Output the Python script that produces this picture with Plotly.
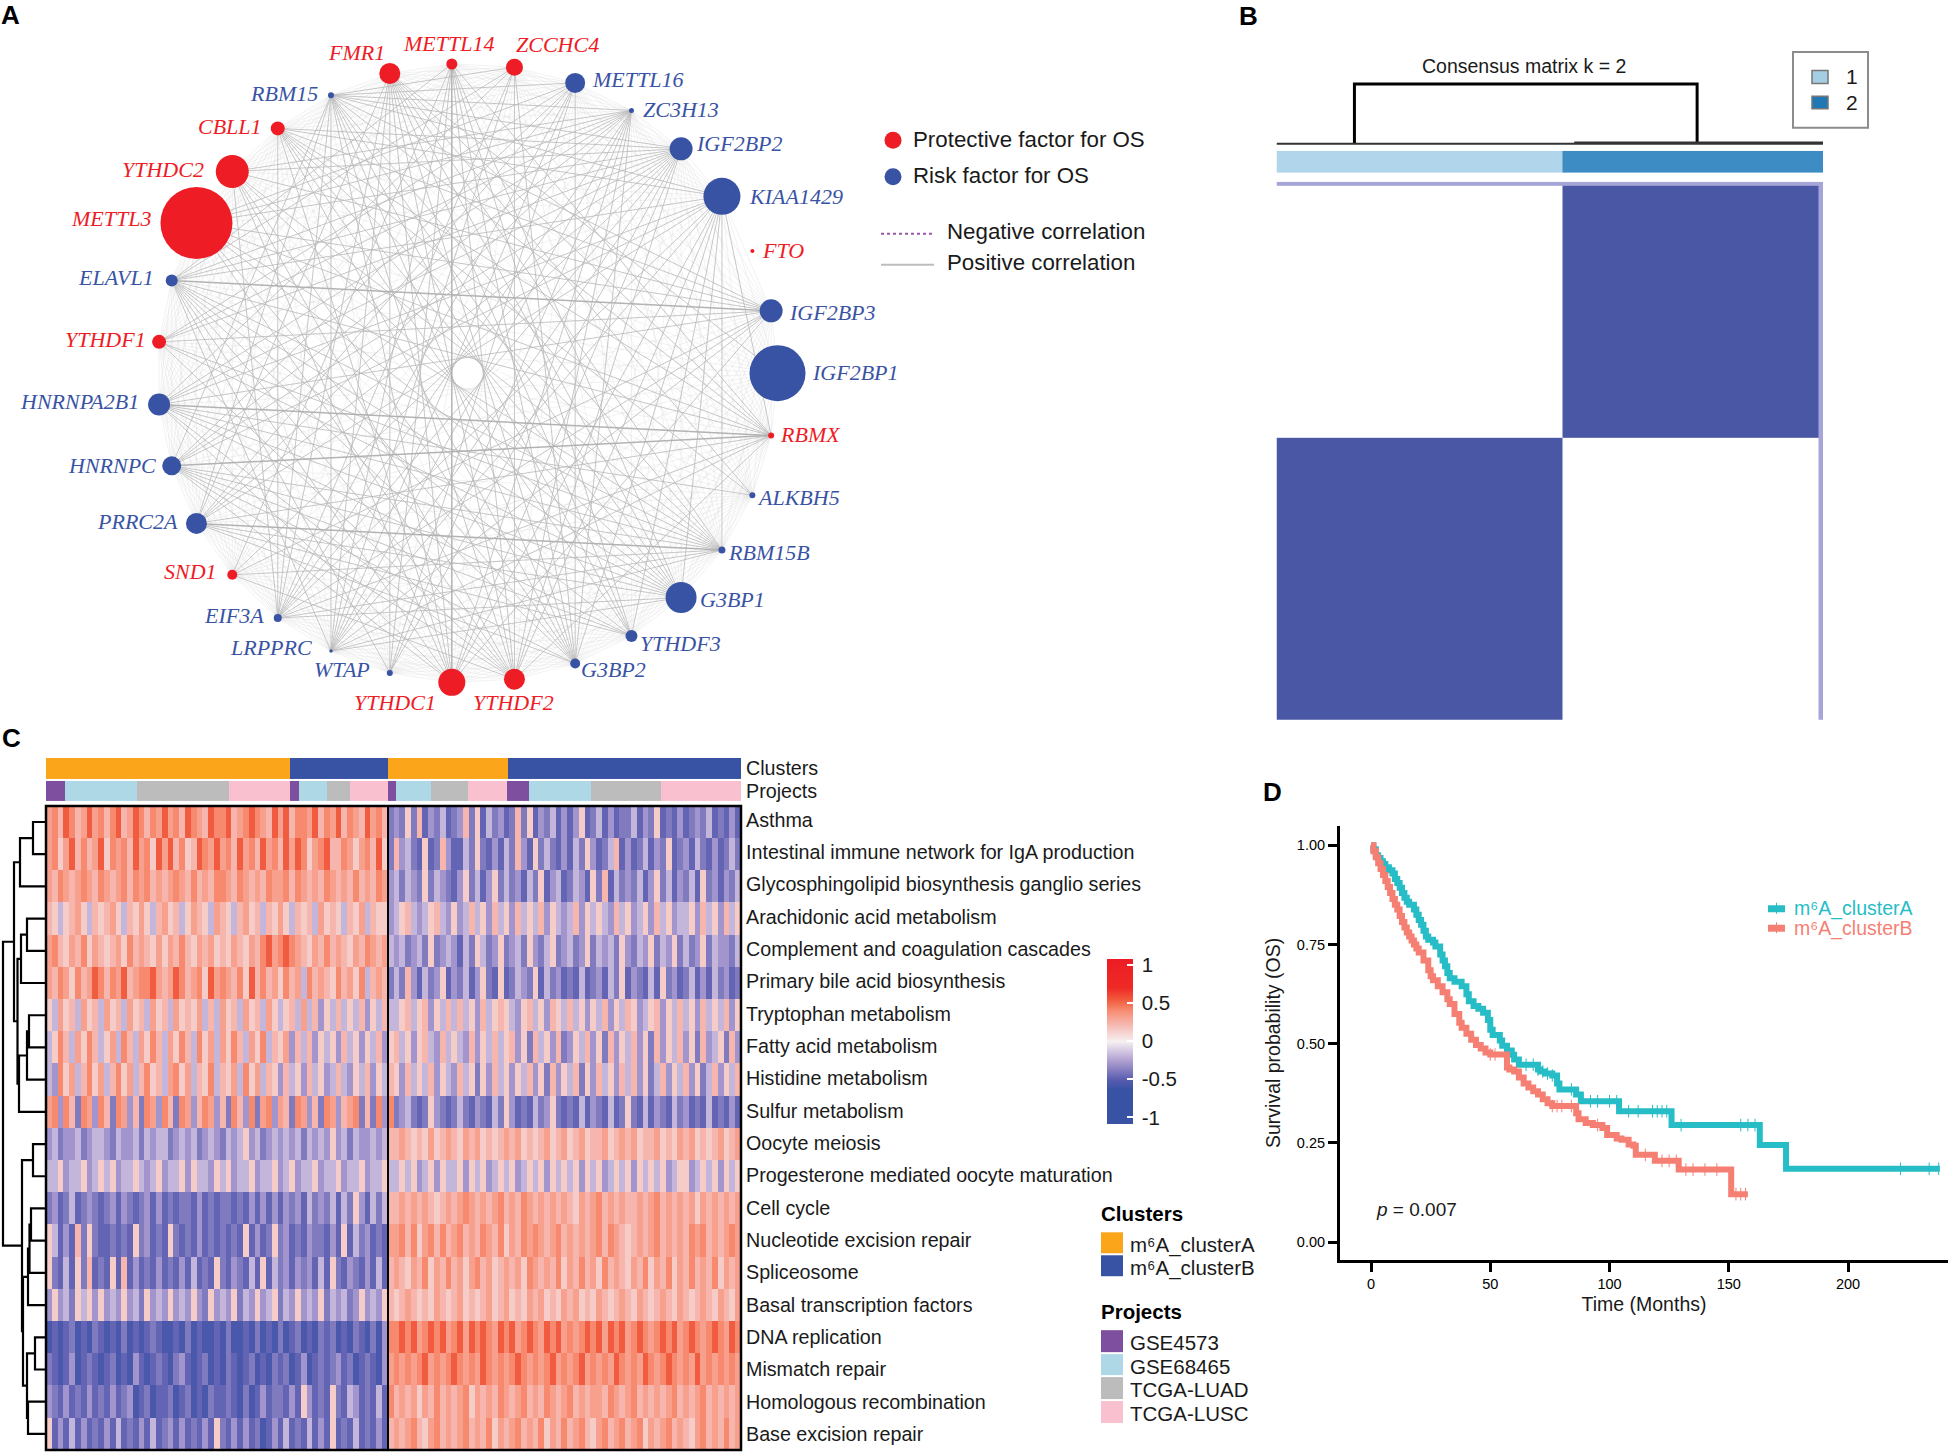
import bisect
import math
import plotly.graph_objects as go

W, H = 1948, 1453
VIEW = 1948 / 1568
SANS = "Liberation Sans"
SERIF = "Liberation Serif"
RED, BLUE = "#ee1c25", "#3953a4"

# ---------- Panel A data ----------
node_names = ["IGF2BP1", "IGF2BP3", "FTO", "KIAA1429", "IGF2BP2", "ZC3H13", "METTL16", "ZCCHC4", "METTL14", "FMR1",
              "RBM15", "CBLL1", "YTHDC2", "METTL3", "ELAVL1", "YTHDF1", "HNRNPA2B1", "HNRNPC", "PRRC2A", "SND1",
              "EIF3A", "LRPPRC", "WTAP", "YTHDC1", "YTHDF2", "G3BP2", "YTHDF3", "G3BP1", "RBM15B", "ALKBH5", "RBMX"]
node_protective = [0, 0, 1, 0, 0, 0, 0, 1, 1, 1,
                   0, 1, 1, 1, 0, 1, 0, 0, 0, 1,
                   0, 0, 0, 1, 1, 0, 0, 0, 0, 0, 1]
node_weight = [56, 23, 4, 37, 23, 5, 20, 17, 11, 21,
               6, 14, 33, 72, 12, 14, 22, 19, 21, 10,
               8, 3.5, 6, 27, 21, 10, 12, 31, 7, 6, 6]
label_cx = [689, 670, 630, 641, 595, 548, 513, 449, 361, 287,
            229, 185, 131, 89, 93, 85, 64, 90, 111, 153,
            188, 218, 275, 318, 413, 494, 548, 590, 619, 643, 652]
label_cy = [300, 252, 202, 158, 116, 88, 64, 36, 35, 42,
            75, 102, 137, 176, 224, 274, 324, 375, 420, 461,
            496, 522, 540, 566, 566, 540, 519, 483, 445, 401, 350]
strong_edges = [("HNRNPC", "RBMX"), ("HNRNPA2B1", "RBMX"), ("ELAVL1", "IGF2BP3"), ("PRRC2A", "RBM15B"),
                ("METTL14", "YTHDC1")]
medium_hubs = [23, 30, 3, 10, 21, 20, 14, 16, 17, 18, 5, 9, 8, 1, 4, 6, 27, 24, 25, 28, 11]
medium_partners = [[8, 9, 10, 11, 3, 4, 5, 1, 12, 14, 16, 17],
                   [14, 16, 17, 18, 20, 21, 10, 11, 9, 8, 13, 24, 3],
                   [10, 11, 14, 16, 17, 18, 20, 21, 24, 25, 26, 27, 28],
                   [27, 28, 26, 25, 24, 4, 5, 18, 21, 20, 17, 1, 6, 7],
                   [1, 4, 5, 6, 27, 28, 14, 9, 8, 7],
                   [1, 4, 5, 27, 28, 9, 11, 6, 7, 12],
                   [4, 27, 28, 5, 25, 26, 24, 22, 7, 8],
                   [1, 4, 27, 28, 5, 24, 26, 29, 7],
                   [27, 28, 4, 5, 25, 24, 26, 6],
                   [27, 4, 5, 6, 26, 9, 25],
                   [24, 25, 13, 15, 16, 12, 22],
                   [28, 27, 26, 24, 25, 29, 0, 22],
                   [24, 25, 26, 22, 27, 19],
                   [11, 13, 15, 19, 12, 10],
                   [11, 13, 15, 22, 24, 12, 19],
                   [25, 22, 15, 13],
                   [20, 17, 15, 12, 13],
                   [7, 12, 13, 15, 19],
                   [7, 11, 12, 13],
                   [11, 12, 15, 13, 19],
                   [26, 27, 29]]
sparse_nodes = ["FTO"]

# ---------- Panel B data ----------
consensus_codes = [[2, 2, 2], [0, 1, 2], [1, 0, 2]]
consensus_x_sizes = [286, 256, 5]
consensus_y_sizes = [4.5, 252, 282.5]
cluster_track_codes = [[0, 1]]
dendro_b_x = [78, 78, 421, 421]
dendro_b_h = [0, 60, 60, 0]

# ---------- Panel C data ----------
pathways = ["Asthma", "Intestinal immune network for IgA production", "Glycosphingolipid biosynthesis ganglio series",
            "Arachidonic acid metabolism", "Complement and coagulation cascades", "Primary bile acid biosynthesis",
            "Tryptophan metabolism", "Fatty acid metabolism", "Histidine metabolism", "Sulfur metabolism",
            "Oocyte meiosis", "Progesterone mediated oocyte maturation", "Cell cycle", "Nucleotide excision repair",
            "Spliceosome", "Basal transcription factors", "DNA replication", "Mismatch repair",
            "Homologous recombination", "Base excision repair"]
cluster_sizes = [244, 98, 120, 233]
cluster_codes = [0, 1, 0, 1]
project_sizes = [19, 72, 92, 61, 9, 28, 23, 38, 8, 35, 37, 39, 22, 62, 70, 80]
project_codes = [0, 1, 2, 3, 0, 1, 2, 3, 0, 1, 2, 3, 0, 1, 2, 3]
level_values = [-0.56, -0.47, -0.39, -0.29, -0.18, 0.14, 0.23, 0.32, 0.41, 0.54]
heat_rows = [
    "7869867978 6896798687 9786987698 8967898769 7968879687 9687697862 3252613241 2362514231 2625132413 1351241312 2413251213 1232412131",
    "7857968679 5878697859 7968569879 7869786978 6979857896 6875786952 6342151263 1142521314 2631524213 1425312461 3124132512 3142131242",
    "7687678768 7678687867 6787686768 8768767687 7868767687 6768676873 4243252432 1352413524 2314251341 2431526142 3241352413 2415231324",
    "6545675465 6754657546 7564576547 6546756465 7546564756 5465746553 4564345643 5346453645 3645463543 4635454364 5345364534 4536453645",
    "7865768576 5675867657 5768657675 6576576897 8987657686 7657687674 3423425234 3142542352 3425324523 4235243425 3243524352 4235243324",
    "7687586798 6879678897 6798678597 8768596867 5867486765 8675846762 4263142351 3241352151 2432514231 2141231425 1321415231 2413142312",
    "5475647564 7564756475 6475657464 7564756475 4564746354 6454635464 4564563546 4645364565 4356453654 6453546354 6534563546 4536454635",
    "4586475864 5748647586 4758648574 7586475846 5736463545 3645354635 6453564364 5436354645 6352645362 3546352635 4635263546 3526345263",
    "4385746857 4685746856 4785746584 6574857465 3645364534 6435463546 5364546354 3645253645 3546352635 4625364536 4635246354 6352463546",
    "7838628738 6287362873 8628736873 6286382783 7628736287 3678262838 2342125321 2421321425 3121423521 2141321412 5214132142 3121412131",
    "3423342344 3243342434 4234342343 2434534234 3434243435 3424334346 6765657567 6576756567 6756567567 5675667567 6756675657 6756567567",
    "4453445345 4534454345 3445354435 4534453445 3453445344 5344534454 4545345354 4535453454 5345453545 4535453454 5354545345 5345453545",
    "2312412321 2313212313 1212213121 2212131313 1323142324 1425314246 6767676567 6787676786 7687676767 6576786767 6676786767 6757676767",
    "5413162521 1212152312 1521213121 2121513125 2312132213 1514231217 7868578686 7867687685 7687876786 7676786876 5676786767 6878676787",
    "5214152612 1516131213 1213141215 2132141514 2313231415 2132131416 7657685768 6757867567 6758767685 7686758676 5768576857 6867685767",
    "3534254535 3435342534 3534353253 4352435345 2435343524 3423534356 5676565765 6756567567 5657675657 6756576567 6576567657 6567657657",
    "0101201021 0102010121 0010201001 0200102010 2012010212 0102102038 8989789897 8979898798 9789879897 8789897989 7898789897 8987898798",
    "2101301210 1201031012 1023101201 0210120102 1201301212 3120121037 8787897878 9878798787 8987878978 7897878798 7879878987 8797878787",
    "3213121312 1312301201 1201201021 1210201312 2131531215 2143121418 6767576867 6785767687 6786768767 8676776876 7867676786 7678676767",
    "5131413121 3141213141 2313121315 2131312013 1412141315 1214121316 7678657867 6786768576 7867685768 6786578678 6785767867 6578676867",
]
# dendrogram merges: child, child, height (leaves are rows 0-19, merge k is id 20+k)
dendro_merges = [(0, 1, 13), (20, 2, 26), (3, 4, 19), (22, 5, 25), (6, 7, 17), (24, 8, 19), (25, 9, 27),
                 (23, 26, 28.5), (21, 27, 32), (10, 11, 13), (12, 13, 15), (30, 14, 16.5), (31, 15, 18),
                 (16, 17, 11), (18, 19, 18), (33, 34, 19), (32, 35, 23), (29, 36, 24), (28, 37, 43)]

# ---------- Panel D data ----------
km_a_time = [0, 1, 2, 3, 4, 5, 6, 7.5, 9, 10, 11, 12, 13, 14, 15, 16, 18, 19, 20, 21, 22, 23, 24, 26, 27, 29, 30, 31,
             32, 33, 35, 38, 40, 41, 43, 45, 47, 49, 50, 51, 54, 55, 57, 59, 60, 62, 70, 71, 73, 76, 78, 79, 86, 88,
             104, 126, 163, 174, 238.5]
km_a_surv = [1.0, .99, .975, .968, .96, .953, .945, .937, .929, .915, .905, .893, .88, .868, .858, .85, .838, .825,
             .812, .80, .785, .77, .762, .755, .745, .725, .71, .695, .678, .665, .656, .645, .625, .607, .595, .588,
             .578, .56, .535, .522, .508, .495, .483, .472, .46, .447, .435, .43, .425, .42, .40, .385, .372, .355,
             .33, .295, .245, .185, .185]
km_b_time = [0, 1, 2, 3, 4, 5, 6, 7, 8, 9, 10, 11, 12, 13, 14, 15, 16, 17, 18, 19, 20, 22, 24, 25, 26, 28, 30, 32, 33,
             35, 37, 38, 40, 42, 44, 46, 48, 50, 57, 58, 60, 62, 64, 66, 68, 70, 72, 74, 76, 86, 87, 90, 93, 97, 99,
             103, 105, 108, 110, 111, 119, 129, 151, 158]
km_b_surv = [1.0, .985, .97, .955, .94, .925, .91, .895, .88, .865, .85, .838, .822, .807, .793, .78, .77, .76, .75,
             .74, .73, .71, .685, .67, .66, .645, .63, .612, .60, .575, .553, .54, .525, .51, .497, .488, .478, .473,
             .44, .435, .43, .415, .40, .39, .38, .372, .36, .35, .343, .325, .31, .30, .295, .288, .27, .261, .258,
             .246, .243, .22, .205, .183, .121, .121]
censor_a = [65, 68, 70, 72, 74, 76, 84, 92, 95, 100, 103, 108, 112, 118, 120, 122, 124, 130, 155, 158, 161, 222, 234, 238]
censor_b = [50, 52, 76, 78, 80, 84, 95, 115, 122, 125, 128, 132, 135, 140, 145, 153, 155, 157]
xticks_d = [0, 50, 100, 150, 200]
yticks_d = [0, 0.25, 0.5, 0.75, 1]
yticklabels_d = ["0.00", "0.25", "0.50", "0.75", "1.00"]

# ---------- helpers ----------
fig = go.Figure()
axis_no = [0]
HIDDEN = dict(visible=False, showgrid=False, zeroline=False, fixedrange=True)


def new_axes(left, top, right, bottom, xrange, yrange, xkw=None, ykw=None):
    axis_no[0] += 1
    n = axis_no[0]
    xa = dict(HIDDEN, domain=[left / W, right / W], range=xrange, anchor=f"y{n}")
    ya = dict(HIDDEN, domain=[1 - bottom / H, 1 - top / H], range=yrange, anchor=f"x{n}")
    xa.update(xkw or {})
    ya.update(ykw or {})
    fig.update_layout({f"xaxis{n}": xa, f"yaxis{n}": ya})
    return dict(xaxis=f"x{n}", yaxis=f"y{n}")


notes, shapes = [], []


def text(x, y, s, size=20, color="black", anchor="left", family=SANS):
    notes.append(dict(x=x / W, y=1 - y / H, xref="paper", yref="paper", text=s, showarrow=False,
                      xanchor=anchor, yanchor="middle", borderpad=0,
                      font=dict(size=size, color=color, family=family)))


def rect(x0, y0, x1, y1, fill="rgba(0,0,0,0)", line=None, width=0, kind="rect", dash=None):
    shapes.append(dict(type=kind, xref="paper", yref="paper", x0=x0 / W, x1=x1 / W, y0=1 - y0 / H, y1=1 - y1 / H,
                       fillcolor=fill, line=dict(color=line or "rgba(0,0,0,0)", width=width, dash=dash)))


def cumulative(sizes):
    edges = [0]
    for s in sizes:
        edges.append(edges[-1] + s)
    return edges


# ---------- Panel A ----------
CX, CY, R = 467.5, 372.7, 310.0
net = new_axes(0, 0, 1000, 730, [-CX / R, (1000 - CX) / R], [-(730 - CY) / R, CY / R])
count = len(node_names)
node_x = [math.cos(2 * math.pi * k / count) for k in range(count)]
node_y = [math.sin(2 * math.pi * k / count) for k in range(count)]
idx = {n: i for i, n in enumerate(node_names)}
strong = {tuple(sorted((idx[a], idx[b]))) for a, b in strong_edges}
medium = {tuple(sorted((h, p))) for h, ps in zip(medium_hubs, medium_partners) for p in ps} - strong
sparse = {idx[n] for n in sparse_nodes}
faint = {(a, b) for a in range(count) for b in range(a + 1, count)} - strong - medium
faint = {e for e in faint if not (e[0] in sparse or e[1] in sparse)}


def edge_trace(pairs, color, width):
    xs, ys = [], []
    for a, b in sorted(pairs):
        xs += [node_x[a], node_x[b], None]
        ys += [node_y[a], node_y[b], None]
    fig.add_trace(go.Scatter(x=xs, y=ys, mode="lines", line=dict(color=color, width=width), hoverinfo="skip",
                             showlegend=False, **net))


edge_trace(faint, "rgba(215,215,215,0.45)", 0.7)
edge_trace(medium, "rgba(185,185,185,0.8)", 1.0)
edge_trace(strong, "rgba(175,175,175,0.95)", 1.5)
fig.add_trace(go.Scatter(x=node_x, y=node_y, mode="markers", text=node_names, hoverinfo="text", showlegend=False,
                         marker=dict(size=node_weight, color=[RED if p else BLUE for p in node_protective],
                                     line=dict(width=0), opacity=1), **net))
for name, p, cx, cy in zip(node_names, node_protective, label_cx, label_cy):
    text(cx * VIEW, cy * VIEW - 1, f"<i>{name}</i>", size=22, color=RED if p else BLUE, anchor="center", family=SERIF)

rect(884.5, 131, 901.5, 148, fill=RED, kind="circle")
rect(884.5, 167.5, 901.5, 184.5, fill=BLUE, kind="circle")
text(912, 138.5, "Protective factor for OS", size=22.3, color="#1a1a1a")
text(912, 174.5, "Risk factor for OS", size=22.3, color="#1a1a1a")
shapes.append(dict(type="line", xref="paper", yref="paper", x0=881 / W, x1=934 / W, y0=1 - 233 / H, y1=1 - 233 / H,
                   line=dict(color="#9b59a8", width=2, dash="dot")))
shapes.append(dict(type="line", xref="paper", yref="paper", x0=881 / W, x1=934 / W, y0=1 - 264 / H, y1=1 - 264 / H,
                   line=dict(color="#bdbdbd", width=2)))
text(946, 230.5, "Negative correlation", size=22.3, color="#1a1a1a")
text(946, 261.5, "Positive correlation", size=22.3, color="#1a1a1a")

# ---------- Panel B ----------
BL, BR = 1276.5, 1823
den = new_axes(BL, 80, BR, 145, [0, 547], [-2, 63])
fig.add_trace(go.Scatter(x=dendro_b_x, y=dendro_b_h, mode="lines", line=dict(color="black", width=3),
                         hoverinfo="skip", showlegend=False, **den))
fig.add_trace(go.Scatter(x=[0, 547], y=[0, 0], mode="lines", line=dict(color="#333333", width=2),
                         hoverinfo="skip", showlegend=False, **den))
fig.add_trace(go.Scatter(x=[298, 547], y=[1, 1], mode="lines", line=dict(color="#333333", width=2.5),
                         hoverinfo="skip", showlegend=False, **den))
ann = new_axes(BL, 150, BR, 172, [0, 547], [0, 1])
fig.add_trace(go.Heatmap(z=cluster_track_codes, x=[0, 286, 547], y=[0, 1], zmin=0, zmax=1, showscale=False,
                         colorscale=[[0, "#b1d5eb"], [1, "#3d8cc4"]], hoverinfo="skip", **ann))
mat = new_axes(BL, 181, BR, 720, [0, 547], [539, 0])
fig.add_trace(go.Heatmap(z=consensus_codes, x=cumulative(consensus_x_sizes), y=cumulative(consensus_y_sizes),
                         zmin=0, zmax=2, showscale=False, hoverinfo="skip",
                         colorscale=[[0, "#ffffff"], [0.5, "#4a57a5"], [1, "#a6a5d8"]], **mat))
text(1524, 65.5, "Consensus matrix k = 2", size=19.5, color="#1a1a1a", anchor="center")
rect(1793, 51, 1868, 127, fill="white", line="#8c8c8c", width=2)
rect(1812, 69.5, 1828, 82.5, fill="#a6cee3", line="#777777", width=1.5)
rect(1812, 95.5, 1828, 108, fill="#1f78b4", line="#777777", width=1.5)
text(1852, 76, "1", size=21, color="#1a1a1a", anchor="center")
text(1852, 102, "2", size=21, color="#1a1a1a", anchor="center")

# ---------- Panel C ----------
HL, HR, HT, HB = 46, 741, 806, 1451
PROJECT_COLORS = ["#7d4f9e", "#aed8e6", "#bcbcbc", "#f9c0cf"]
LABEL_FONT = dict(family=SANS, size=19.7, color="#1a1a1a")


def track(top, bottom, sizes, codes, palette, label):
    ax = new_axes(HL, top, HR, bottom, [0, sum(sizes)], [0, 1],
                  ykw=dict(visible=True, side="right", showline=False, ticks="", tickvals=[0.5], ticktext=[label],
                           tickfont=LABEL_FONT, ticklabelstandoff=4))
    n = len(palette)
    scale = []
    for i, c in enumerate(palette):
        scale += [[i / n, c], [(i + 1) / n, c]]
    fig.add_trace(go.Heatmap(z=[codes], x=cumulative(sizes), y=[0, 1], zmin=-0.5, zmax=n - 0.5, showscale=False,
                             colorscale=scale, hoverinfo="skip", **ax))


track(758, 779, cluster_sizes, cluster_codes, ["#fba51a", BLUE], "Clusters")
track(781, 801, project_sizes, project_codes, PROJECT_COLORS, "Projects")

matrix = []
for row in heat_rows:
    digits = row.replace(" ", "")
    assert len(digits) == 120, (row, len(digits))
    matrix.append([level_values[int(d)] for d in digits])
colscale_stops = [(-1.08, "#3953a4"), (-0.62, "#3953a4"), (-0.5, "#5a5cb0"), (-0.25, "#b0a0d2"), (0, "#f6f0f2"),
                  (0.2, "#f6bcb8"), (0.4, "#f78d72"), (0.55, "#f1593c"), (0.7, "#ee2a26"), (1.08, "#ed1c24")]
colorscale = [[(v + 1.08) / 2.16, c] for v, c in colscale_stops]
hm = new_axes(HL, HT, HR, HB, [0, 120], [19.5, -0.5],
              ykw=dict(visible=True, side="right", showline=False, ticks="",
                       tickvals=[i * 1.004 - 0.07 for i in range(20)],
                       ticktext=pathways, tickfont=LABEL_FONT, ticklabelstandoff=4))
fig.add_trace(go.Heatmap(z=matrix, x=list(range(121)), y=[i - 0.5 for i in range(21)], zmin=-1.08, zmax=1.08,
                         colorscale=colorscale, hoverinfo="skip",
                         colorbar=dict(x=1107 / W, xanchor="left", y=1 - 1041.5 / H, yanchor="middle",
                                       lenmode="pixels", len=165, thicknessmode="pixels", thickness=26,
                                       xpad=0, ypad=0, outlinewidth=0, ticks="inside", ticklen=6, tickwidth=2,
                                       tickcolor="white", tickvals=[-1, -0.5, 0, 0.5, 1],
                                       ticktext=["\u2009-1", "\u2009-0.5", "\u20090", "\u20090.5", "\u20091"],
                                       tickfont=dict(family=SANS, size=20.5, color="#1a1a1a")),
                         **hm))
rect(HL, HT, HR, HB, line="black", width=2.5)
shapes.append(dict(type="line", xref="paper", yref="paper", x0=388 / W, x1=388 / W, y0=1 - HT / H, y1=1 - HB / H,
                   line=dict(color="black", width=2)))

# heatmap dendrogram
dn = new_axes(0, HT, HL, HB, [46, 0], [19.5, -0.5])
pos = {i: (i, 0) for i in range(20)}
dx, dy = [], []
for k, (a, b, h) in enumerate(dendro_merges):
    ya, ha = pos[a]
    yb, hb = pos[b]
    dx += [ha, h, h, hb, None]
    dy += [ya, ya, yb, yb, None]
    pos[20 + k] = ((ya + yb) / 2, h)
fig.add_trace(go.Scatter(x=dx, y=dy, mode="lines", line=dict(color="black", width=2.2), hoverinfo="skip",
                         showlegend=False, **dn))

# heatmap legends
text(1100, 1214, "<b>Clusters</b>", size=20.5)
rect(1101, 1233, 1123, 1254, fill="#fba51a")
rect(1101, 1256, 1123, 1277, fill=BLUE)
text(1129, 1246, "m⁶A_clusterA", size=20.5, color="#1a1a1a")
text(1129, 1269, "m⁶A_clusterB", size=20.5, color="#1a1a1a")
text(1100, 1312, "<b>Projects</b>", size=20.5)
for (t0, t1), c, lab in zip([(1331, 1353), (1355, 1376), (1378, 1400), (1402, 1424)], PROJECT_COLORS,
                            ["GSE4573", "GSE68465", "TCGA-LUAD", "TCGA-LUSC"]):
    rect(1101, t0, 1123, t1, fill=c)
    text(1129, (t0 + t1) / 2 + 1.5, lab, size=20.5, color="#1a1a1a")

# ---------- Panel D ----------
TEAL, SALMON = "#27bdc6", "#f67f73"
AX_FONT = dict(family=SANS, size=14.5, color="black")
km = new_axes(1340, 826, 1948, 1260.7, [-13, 241.9], [-0.0448, 1.049],
              xkw=dict(visible=True, showline=True, linecolor="black", linewidth=3, ticks="outside", ticklen=9,
                       tickwidth=3, tickcolor="black", tickvals=xticks_d, tickfont=AX_FONT,
                       title=dict(text="Time (Months)", font=dict(family=SANS, size=19.5, color="#1a1a1a"), standoff=6)),
              ykw=dict(visible=True, showline=True, linecolor="black", linewidth=3, ticks="outside", ticklen=9,
                       tickwidth=3, tickcolor="black", tickvals=yticks_d, ticktext=yticklabels_d, tickfont=AX_FONT,
                       title=dict(text="Survival probability (OS)", font=dict(family=SANS, size=19.5, color="#1a1a1a"),
                                  standoff=12)))


def survival_at(times, surv, t):
    return surv[bisect.bisect_right(times, t) - 1]


for times, surv, censor, color, name in [(km_a_time, km_a_surv, censor_a, TEAL, "m⁶A_clusterA"),
                                         (km_b_time, km_b_surv, censor_b, SALMON, "m⁶A_clusterB")]:
    assert len(times) == len(surv), (name, len(times), len(surv))
    fig.add_trace(go.Scatter(x=times, y=surv, mode="lines", line=dict(color=color, width=6, shape="hv"),
                             name=name, showlegend=False, **km))
    fig.add_trace(go.Scatter(x=censor, y=[survival_at(times, surv, t) for t in censor], mode="markers",
                             marker=dict(symbol="line-ns", size=9, line=dict(color=color, width=1)),
                             hoverinfo="skip", showlegend=False, **km))

rect(1768, 905.5, 1785, 912.5, fill=TEAL)
rect(1776, 903, 1777, 914, fill=TEAL)
rect(1768, 925, 1785, 932, fill=SALMON)
rect(1776, 922.5, 1777, 933.5, fill=SALMON)
text(1793, 909, "m⁶A_clusterA", size=19.5, color=TEAL)
text(1793, 928.5, "m⁶A_clusterB", size=19.5, color=SALMON)
text(1375, 1210, "<i>p</i> = 0.007", size=19, color="#1a1a1a")

# ---------- panel letters ----------
for x, y, s in [(10, 14, "A"), (1248, 15, "B"), (11, 738, "C"), (1272, 792, "D")]:
    text(x, y, f"<b>{s}</b>", size=26, anchor="center")

fig.update_layout(width=W, height=H, margin=dict(l=0, r=0, t=0, b=0), autosize=False, showlegend=False,
                  paper_bgcolor="white", plot_bgcolor="white", annotations=notes, shapes=shapes,
                  font=dict(family=SANS))
fig.write_html("out.html", config=dict(displayModeBar=False),
               post_script="document.body.style.margin='0';document.documentElement.style.overflow='hidden';")
